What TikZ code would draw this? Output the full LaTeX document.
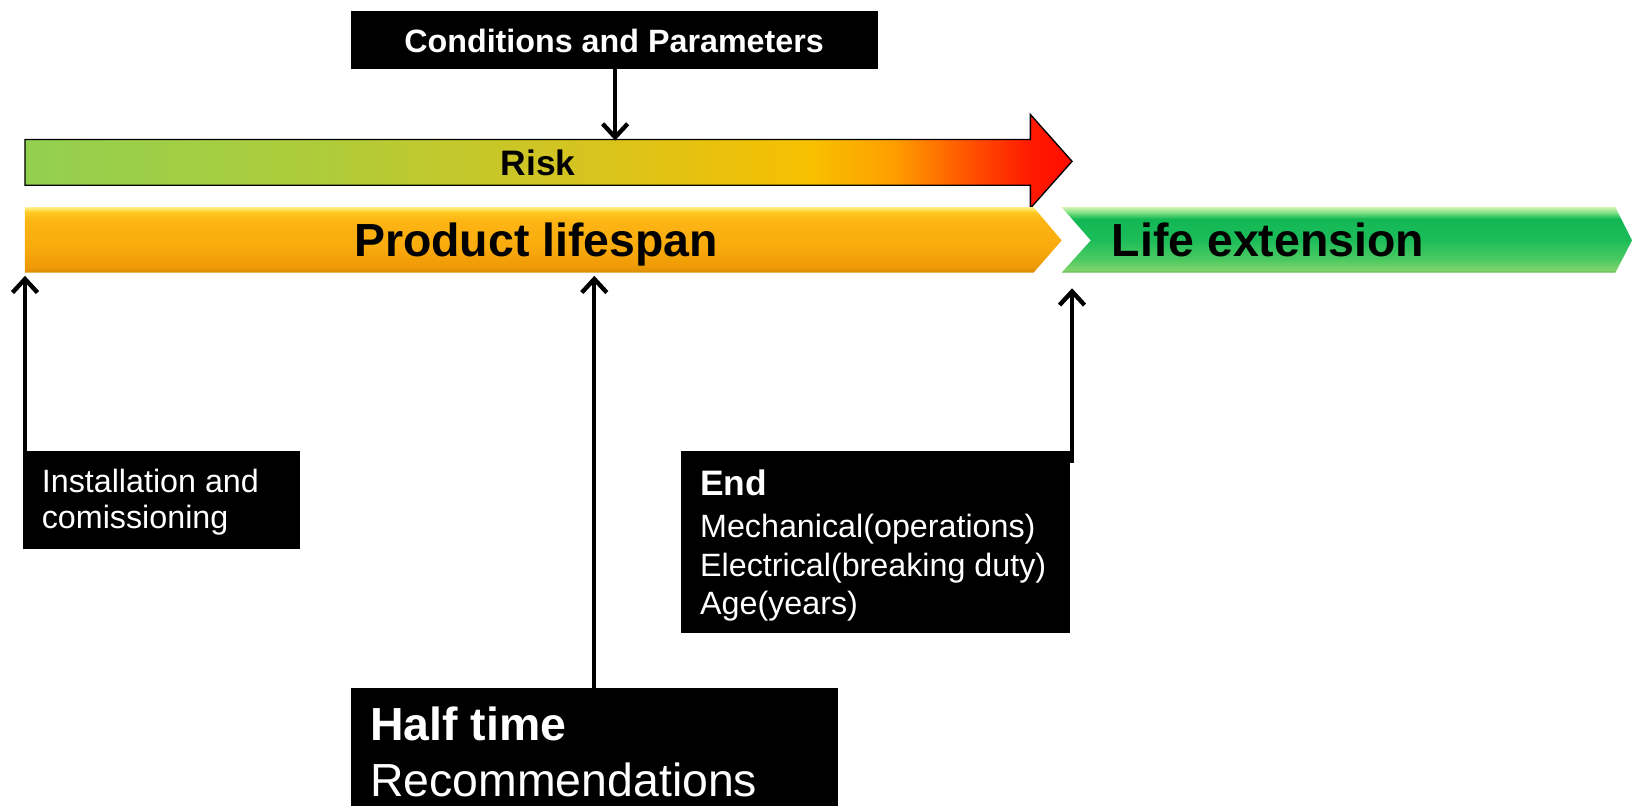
\documentclass[tikz,border=0pt]{standalone}
\usepackage{fontspec}
\setmainfont{Liberation Sans}
\usetikzlibrary{arrows.meta}
\pgfdeclarehorizontalshading{riskshade}{100bp}{%
 rgb(0bp)=(0.573,0.816,0.314);
 rgb(25bp)=(0.573,0.816,0.314);
 rgb(38.7bp)=(0.68,0.80,0.23);
 rgb(51bp)=(0.83,0.77,0.13);
 rgb(62.6bp)=(0.97,0.75,0.0);
 rgb(66.5bp)=(1,0.62,0);
 rgb(70bp)=(1,0.33,0);
 rgb(73bp)=(1,0.10,0);
 rgb(75bp)=(1,0.05,0);
 rgb(100bp)=(1,0.05,0)}
\pgfdeclareverticalshading{lifeshade}{100bp}{%
 rgb(0bp)=(0.85,0.54,0.03);
 rgb(25bp)=(0.85,0.54,0.03);
 rgb(29bp)=(0.93,0.60,0.02);
 rgb(45bp)=(0.98,0.67,0.05);
 rgb(65bp)=(0.99,0.71,0.08);
 rgb(71bp)=(1,0.78,0.13);
 rgb(73.5bp)=(1,0.89,0.36);
 rgb(75bp)=(1,0.93,0.55);
 rgb(100bp)=(1,0.93,0.55)}
\pgfdeclareverticalshading{extshade}{100bp}{%
 rgb(0bp)=(0.36,0.69,0.29);
 rgb(25bp)=(0.36,0.69,0.29);
 rgb(27bp)=(0.50,0.83,0.42);
 rgb(35bp)=(0.30,0.79,0.38);
 rgb(50bp)=(0.11,0.74,0.35);
 rgb(66bp)=(0.07,0.72,0.33);
 rgb(71bp)=(0.50,0.88,0.52);
 rgb(75bp)=(0.82,0.96,0.70);
 rgb(100bp)=(0.82,0.96,0.70)}
\tikzset{
  blackbox/.style={fill=black, draw=none, inner sep=0pt, anchor=north west},
  conn/.style={line width=4pt, -{Straight Barb[length=13pt,width=24pt,line width=4.2pt,sharp]}},
  wtext/.style={text=white, anchor=base west, inner sep=0pt},
  btext/.style={text=black, inner sep=0pt},
  regfont/.style={font=\fontsize{31pt}{34pt}\selectfont},
  boldmid/.style={font=\bfseries\fontsize{34pt}{38pt}\selectfont},
  bigbold/.style={font=\bfseries\fontsize{44.6pt}{50pt}\selectfont},
  bigreg/.style={font=\fontsize{44.6pt}{50pt}\selectfont},
}
\begin{document}
\begin{tikzpicture}[x=1pt,y=-1pt]
\useasboundingbox (0,0) rectangle (1568,774);
\fill[white] (0,0) rectangle (1568,774);

% Risk arrow
\shade[shading=riskshade, draw=black, line width=1.3pt, line join=miter]
  (24,134) -- (990,134) -- (990,110) -- (1030,155) -- (990,200) -- (990,178) -- (24,178) -- cycle;
\node[btext, boldmid, anchor=base] (risk) at (517,169) {Risk};

% Product lifespan
\shade[shading=lifeshade]
  (24,199) -- (993,199) -- (1020,231) -- (993,262) -- (24,262) -- cycle;
\node[btext, bigbold, anchor=base] (lifespan) at (515,246) {Product lifespan};

% Life extension
\shade[shading=extshade]
  (1020,199) -- (1552,199) -- (1568,231) -- (1552,262) -- (1020,262) -- (1048,231) -- cycle;
\node[btext, bigbold, anchor=base west] (ext) at (1068,246) {Life extension};

% Conditions box
\node[blackbox, minimum width=506pt, minimum height=56pt] (cond) at (337,10) {};
\node[wtext, font=\bfseries\fontsize{31pt}{34pt}\selectfont, anchor=base] (condtxt) at (590,50) {Conditions and Parameters};

% Installation box
\node[blackbox, minimum width=266pt, minimum height=94pt] (inst) at (22,433) {};
\node[wtext, regfont] (inst1) at (40,473.5) {Installation and};
\node[wtext, regfont] (inst2) at (40,507.5) {comissioning};

% End box
\node[blackbox, minimum width=374pt, minimum height=175pt] (endbox) at (654,433) {};
\node[wtext, boldmid] (end1) at (672.5,476.5) {End};
\node[wtext, regfont] (end2) at (672.5,516) {Mechanical(operations)};
\node[wtext, regfont] (end3) at (672.5,554) {Electrical(breaking duty)};
\node[wtext, regfont] (end4) at (672.5,590.5) {Age(years)};

% Half time box
\node[blackbox, minimum width=468pt, minimum height=113pt] (half) at (337,661) {};
\node[wtext, bigbold] (half1) at (355.5,711) {Half time};
\node[wtext, bigreg] (half2) at (355.5,765.5) {Recommendations};

% Connectors
\coordinate (riskTop) at (591,135);
\coordinate (lifeStart) at (24,265);
\coordinate (lifeHalf) at (571,265);
\coordinate (lifeEnd) at (1030,277);
\draw[conn] (riskTop |- cond.south) -- (riskTop);
\draw[conn] (lifeStart |- inst.north) -- (lifeStart);
\draw[conn] (lifeHalf |- half.north) -- (lifeHalf);
\draw[conn] ([yshift=-12pt]endbox.north east -| lifeEnd) -- (lifeEnd);
\end{tikzpicture}
\end{document}
